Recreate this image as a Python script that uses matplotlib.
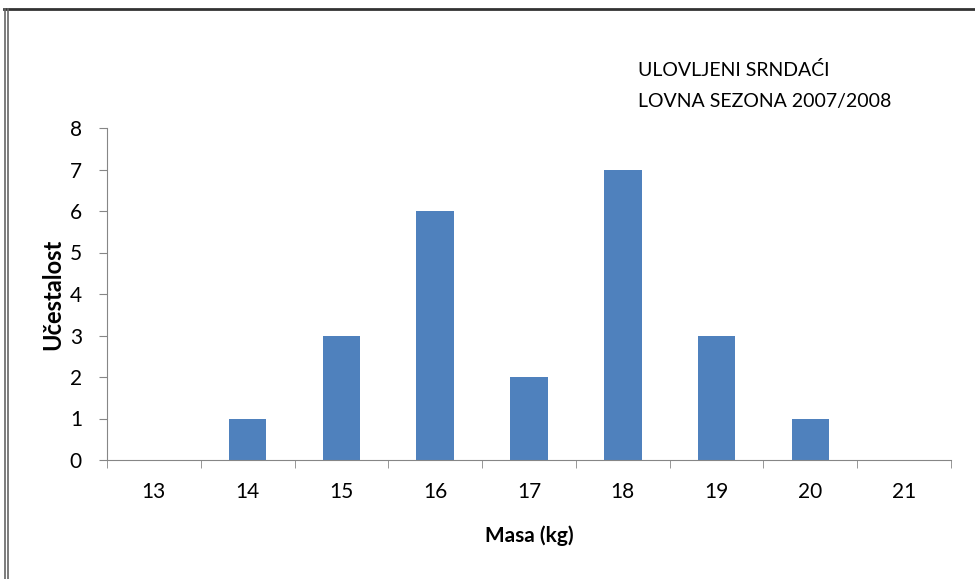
import matplotlib.pyplot as plt
from matplotlib.lines import Line2D
import numpy as np

# data
masa = ['13', '14', '15', '16', '17', '18', '19', '20', '21']
ucestalost = [0, 1, 3, 6, 2, 7, 3, 1, 0]

plt.rcParams['font.family'] = ['Lato', 'DejaVu Sans']

W, H = 975, 579
fig = plt.figure(figsize=(9.75, 5.79), dpi=100)
ax = fig.add_axes([107 / W, 1 - 460 / H, 844 / W, 332 / H])

bar_color = '#4F81BD'
axis_color = '#868686'

x = np.arange(len(masa))
ax.bar(x, ucestalost, width=0.4, color=bar_color)

ax.set_xlim(-0.5, len(masa) - 0.5)
ax.set_ylim(0, 8)
ax.set_yticks(range(0, 9))

# category labels centred, tick marks on the boundaries
ax.set_xticks(x)
ax.set_xticklabels(masa)
ax.tick_params(axis='x', length=0, pad=16, labelsize=15)
ax.set_xticks(np.arange(-0.5, len(masa)), minor=True)
ax.tick_params(axis='x', which='minor', length=6, color=axis_color, direction='out')
ax.tick_params(axis='y', length=6, color=axis_color, labelsize=15, pad=12)

for s in ['top', 'right']:
    ax.spines[s].set_visible(False)
for s in ['left', 'bottom']:
    ax.spines[s].set_color(axis_color)

ax.set_xlabel('Masa (kg)', fontsize=15, fontweight='bold', labelpad=17)
ax.set_ylabel('Učestalost', fontsize=17, fontweight='bold', labelpad=4)

fig.text(638 / W, 1 - 70 / H, 'ULOVLJENI SRNDAĆI', fontsize=14, va='center', ha='left')
fig.text(638 / W, 1 - 101 / H, 'LOVNA SEZONA 2007/2008', fontsize=14, va='center', ha='left')

# outer frame (top and double left edge)
fig.add_artist(Line2D([4 / W, 1], [1 - 8.5 / H] * 2, transform=fig.transFigure, color='#333333', lw=2))
fig.add_artist(Line2D([4.5 / W] * 2, [0, 1 - 8.5 / H], transform=fig.transFigure, color='#666666', lw=1.2))
fig.add_artist(Line2D([7.5 / W] * 2, [0, 1 - 8.5 / H], transform=fig.transFigure, color='#666666', lw=1.2))

fig.savefig('out.png', dpi=100)
